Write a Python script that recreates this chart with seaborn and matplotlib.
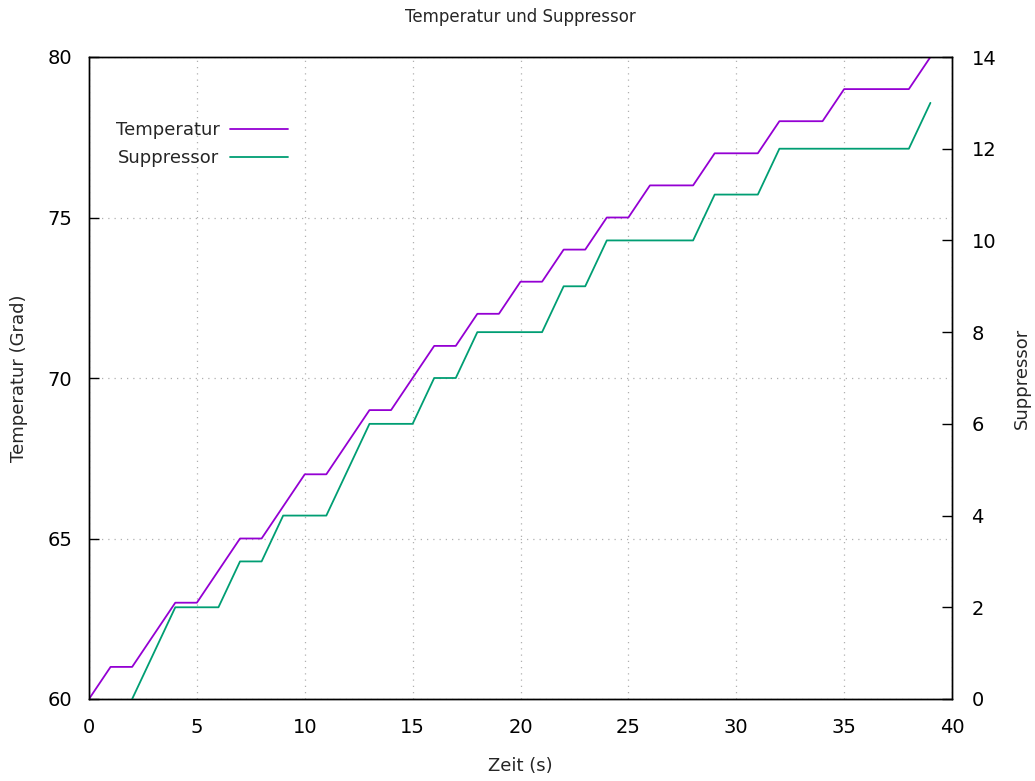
import matplotlib
matplotlib.use("Agg")
import matplotlib.pyplot as plt
import seaborn as sns
import pandas as pd

zeit_temp = list(range(0, 40))
temperatur = [60, 61, 61, 62, 63, 63, 64, 65, 65, 66,
              67, 67, 68, 69, 69, 70, 71, 71, 72, 72,
              73, 73, 74, 74, 75, 75, 76, 76, 76, 77,
              77, 77, 78, 78, 78, 79, 79, 79, 79, 80]
zeit_supp = list(range(2, 40))
suppressor = [0, 1, 2, 2, 2, 3, 3, 4, 4, 4,
              5, 6, 6, 6, 7, 7, 8, 8, 8, 8,
              9, 9, 10, 10, 10, 10, 10, 11, 11, 11,
              12, 12, 12, 12, 12, 12, 12, 13]

x_ticks = [0, 5, 10, 15, 20, 25, 30, 35, 40]
y_ticks = [60, 65, 70, 75, 80]
y2_ticks = [0, 2, 4, 6, 8, 10, 12, 14]

sns.set_style("white")
plt.rcParams['font.family'] = ['DejaVu Sans']

df_t = pd.DataFrame({"Zeit": zeit_temp, "Wert": temperatur})
df_s = pd.DataFrame({"Zeit": zeit_supp, "Wert": suppressor})

fig = plt.figure(figsize=(10.35, 7.81), dpi=100)
ax = fig.add_axes([89/1035, 1-699/781, (952-89)/1035, (699-57)/781])
ax2 = ax.twinx()

c_t = "#9400d3"
c_s = "#009e73"
sns.lineplot(data=df_t, x="Zeit", y="Wert", ax=ax, color=c_t, lw=1.3, label="Temperatur", legend=False)
sns.lineplot(data=df_s, x="Zeit", y="Wert", ax=ax2, color=c_s, lw=1.3, label="Suppressor", legend=False)

ax.set_xlim(0, 40)
ax.set_ylim(60, 80)
ax2.set_ylim(0, 14)
ax.set_xticks(x_ticks)
ax.set_yticks(y_ticks)
ax2.set_yticks(y2_ticks)

for a in (ax, ax2):
    for s in a.spines.values():
        s.set_color("black")
        s.set_linewidth(1.0)

ax.tick_params(axis="both", direction="in", length=7, width=1, labelsize=14, colors="black")
ax.tick_params(axis="x", pad=14)
ax.tick_params(axis="y", pad=12)
ax2.tick_params(axis="y", direction="in", length=7, width=1, labelsize=14, colors="black", pad=14)

ax.grid(True, linestyle=(0, (1, 4)), color="#b0b0b0", linewidth=0.9)
ax.set_axisbelow(True)

ax.set_xlabel("Zeit (s)", fontsize=13, labelpad=14)
ax.set_ylabel("Temperatur (Grad)", fontsize=13, labelpad=14)
ax2.set_ylabel("Suppressor", fontsize=13, labelpad=12, rotation=90)
ax.set_title("Temperatur und Suppressor", fontsize=12, pad=25)

h1, l1 = ax.get_legend_handles_labels()
h2, l2 = ax2.get_legend_handles_labels()
leg = ax2.legend(h1 + h2, l1 + l2, loc="upper left", bbox_to_anchor=(0.012, 0.925),
                 frameon=False, markerfirst=False, fontsize=13, handlelength=3.2,
                 handletextpad=0.6, labelspacing=0.55)

fig.savefig("out.png", dpi=100)
